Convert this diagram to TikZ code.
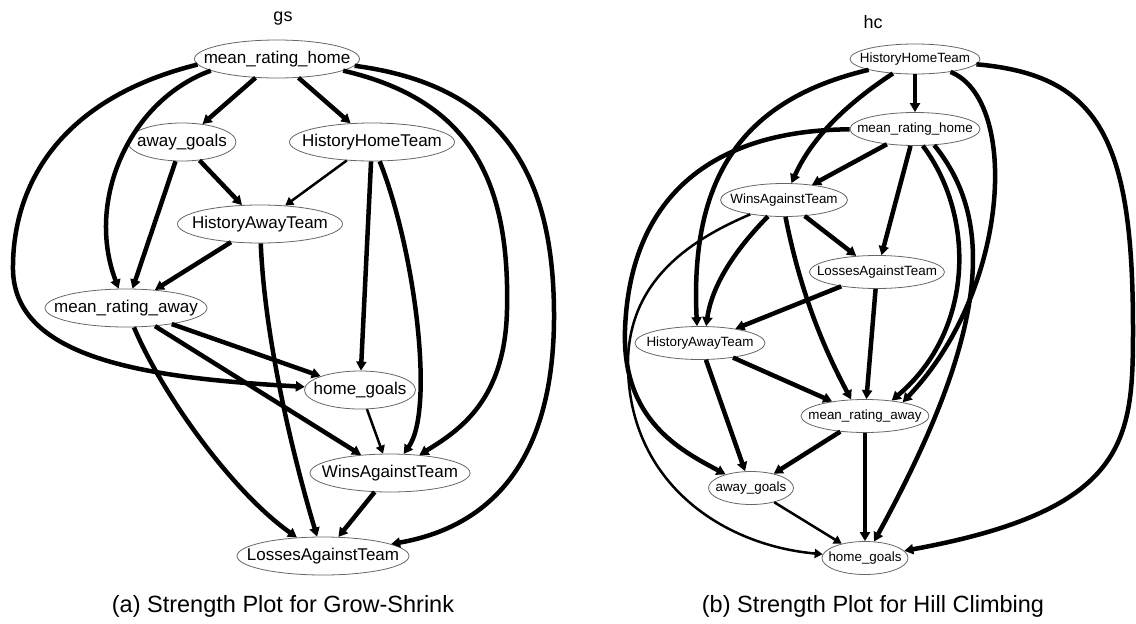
\documentclass[tikz,border=0pt]{standalone}
\usepackage{fontspec}
\setmainfont{Liberation Sans}
\usetikzlibrary{arrows.meta,shapes.geometric}
\newcommand{\vname}[1]{\makebox[0pt]{#1}}
\tikzset{%
	var/.style       = {draw=black!60, ellipse, line width=0.8pt, inner sep=0pt, minimum width=#1}, % Variable
	varA/.style      = {var=#1, minimum height=38pt, font=\fontsize{17}{20}\selectfont},
	varB/.style      = {var=#1, minimum height=33pt, font=\fontsize{13.4}{16}\selectfont},
	edgethick/.style = {line width=4.5pt, -{Triangle[length=9pt,width=10pt]}}, % Strong arc
	edgethin/.style  = {line width=2.5pt, -{Triangle[length=8pt,width=9pt]}}, % Weak arc
	title/.style     = {font=\fontsize{18}{21}\selectfont},
	caption/.style   = {font=\fontsize{23.5}{27}\selectfont},
}
\begin{document}
\begin{tikzpicture}[x=1pt, y=-1pt]
	\useasboundingbox (0,0) rectangle (1136,624);
	% grow-shrink
	\node[title] (gs) at (283,19) {gs};
	\node[varA=165pt] (mrhA) at (277,59) {\vname{mean\_rating\_home}};
	\node[varA=108pt] (agA) at (182,142) {\vname{away\_goals}};
	\node[varA=165pt] (hhtA) at (372,142) {\vname{HistoryHomeTeam}};
	\node[varA=165pt] (hatA) at (260,224) {\vname{HistoryAwayTeam}};
	\node[varA=162pt] (mraA) at (126,308) {\vname{mean\_rating\_away}};
	\node[varA=111pt] (hgA) at (360,390) {\vname{home\_goals}};
	\node[varA=160pt] (watA) at (390,473) {\vname{WinsAgainstTeam}};
	\node[varA=172pt] (latA) at (323,556) {\vname{LossesAgainstTeam}};
	\node[caption] (capA) at (283,606) {(a) Strength Plot for Grow-Shrink};
	
	\draw[edgethick] (mrhA) -- (agA);
	\draw[edgethick] (mrhA) -- (hhtA);
	\draw[edgethick] (mrhA.190) .. controls (130,100) and (85,200) .. (mraA);
	\draw[edgethick] (mrhA.184) .. controls (55,100) and (12,190) .. (13,270) .. controls (15,360) and (150,378) .. (hgA);
	\draw[edgethick] (mrhA.-10) .. controls (470,100) and (510,180) .. (507,310) .. controls (505,400) and (460,430) .. (watA);
	\draw[edgethick] (mrhA.-5) .. controls (500,85) and (555,170) .. (554,320) .. controls (553,450) and (500,525) .. (latA);
	\draw[edgethick] (agA) -- (mraA);
	\draw[edgethick] (agA) -- (hatA);
	\draw[edgethin] (hhtA) -- (hatA);
	\draw[edgethick] (hhtA) -- (hgA);
	\draw[edgethick] (hhtA) .. controls (415,250) and (435,410) .. (watA);
	\draw[edgethick] (hatA) -- (mraA);
	\draw[edgethick] (hatA) .. controls (265,350) and (300,480) .. (latA);
	\draw[edgethick] (mraA) -- (hgA);
	\draw[edgethick] (mraA) -- (watA);
	\draw[edgethick] (mraA) .. controls (160,390) and (230,490) .. (latA);
	\draw[edgethin] (hgA) -- (watA);
	\draw[edgethick] (watA) -- (latA);
	
	% hill climbing
	\node[title] (hc) at (873,22) {hc};
	\node[varB=130pt, minimum height=30pt] (hhtB) at (915,59) {\vname{HistoryHomeTeam}};
	\node[varB=130pt] (mrhB) at (915,129) {\vname{mean\_rating\_home}};
	\node[varB=127pt] (watB) at (784,200) {\vname{WinsAgainstTeam}};
	\node[varB=135pt] (latB) at (877,272) {\vname{LossesAgainstTeam}};
	\node[varB=130pt] (hatB) at (700,343) {\vname{HistoryAwayTeam}};
	\node[varB=128pt] (mraB) at (865,416) {\vname{mean\_rating\_away}};
	\node[varB=85pt] (agB) at (751,488) {\vname{away\_goals}};
	\node[varB=86pt] (hgB) at (865,558) {\vname{home\_goals}};
	\node[caption] (capB) at (873,606) {(b) Strength Plot for Hill Climbing};
	
	\draw[edgethick] (hhtB) -- (mrhB);
	\draw[edgethick] (hhtB) .. controls (860,95) and (815,130) .. (watB);
	\draw[edgethick] (hhtB) .. controls (740,100) and (690,180) .. (hatB.100);
	\draw[edgethick] (hhtB.-20) .. controls (1020,100) and (1010,290) .. (mraB.20);
	\draw[edgethick] (hhtB) .. controls (1100,75) and (1133,140) .. (1133,330) .. controls (1133,440) and (1128,510) .. (hgB);
	\draw[edgethick] (mrhB) -- (watB);
	\draw[edgethick] (mrhB) -- (latB);
	\draw[edgethick] (mrhB) .. controls (720,130) and (630,190) .. (625,330) .. controls (622,420) and (680,450) .. (agB);
	\draw[edgethick] (mrhB.-65) .. controls (975,215) and (975,330) .. (mraB.30);
	\draw[edgethick] (mrhB.-40) .. controls (995,220) and (990,330) .. (hgB);
	\draw[edgethick] (watB) .. controls (735,250) and (712,285) .. (hatB.70);
	\draw[edgethick] (watB) -- (latB);
	\draw[edgethick] (watB.-85) .. controls (800,290) and (822,345) .. (mraB.130);
	\draw[edgethin] (watB) .. controls (690,240) and (630,280) .. (628,360) .. controls (626,480) and (720,545) .. (hgB);
	\draw[edgethick] (latB) -- (hatB);
	\draw[edgethick] (latB) -- (mraB);
	\draw[edgethick] (hatB) -- (mraB);
	\draw[edgethick] (hatB) -- (agB);
	\draw[edgethick] (mraB) -- (agB);
	\draw[edgethick] (mraB) -- (hgB);
	\draw[edgethin] (agB) -- (hgB);
\end{tikzpicture}
\end{document}
